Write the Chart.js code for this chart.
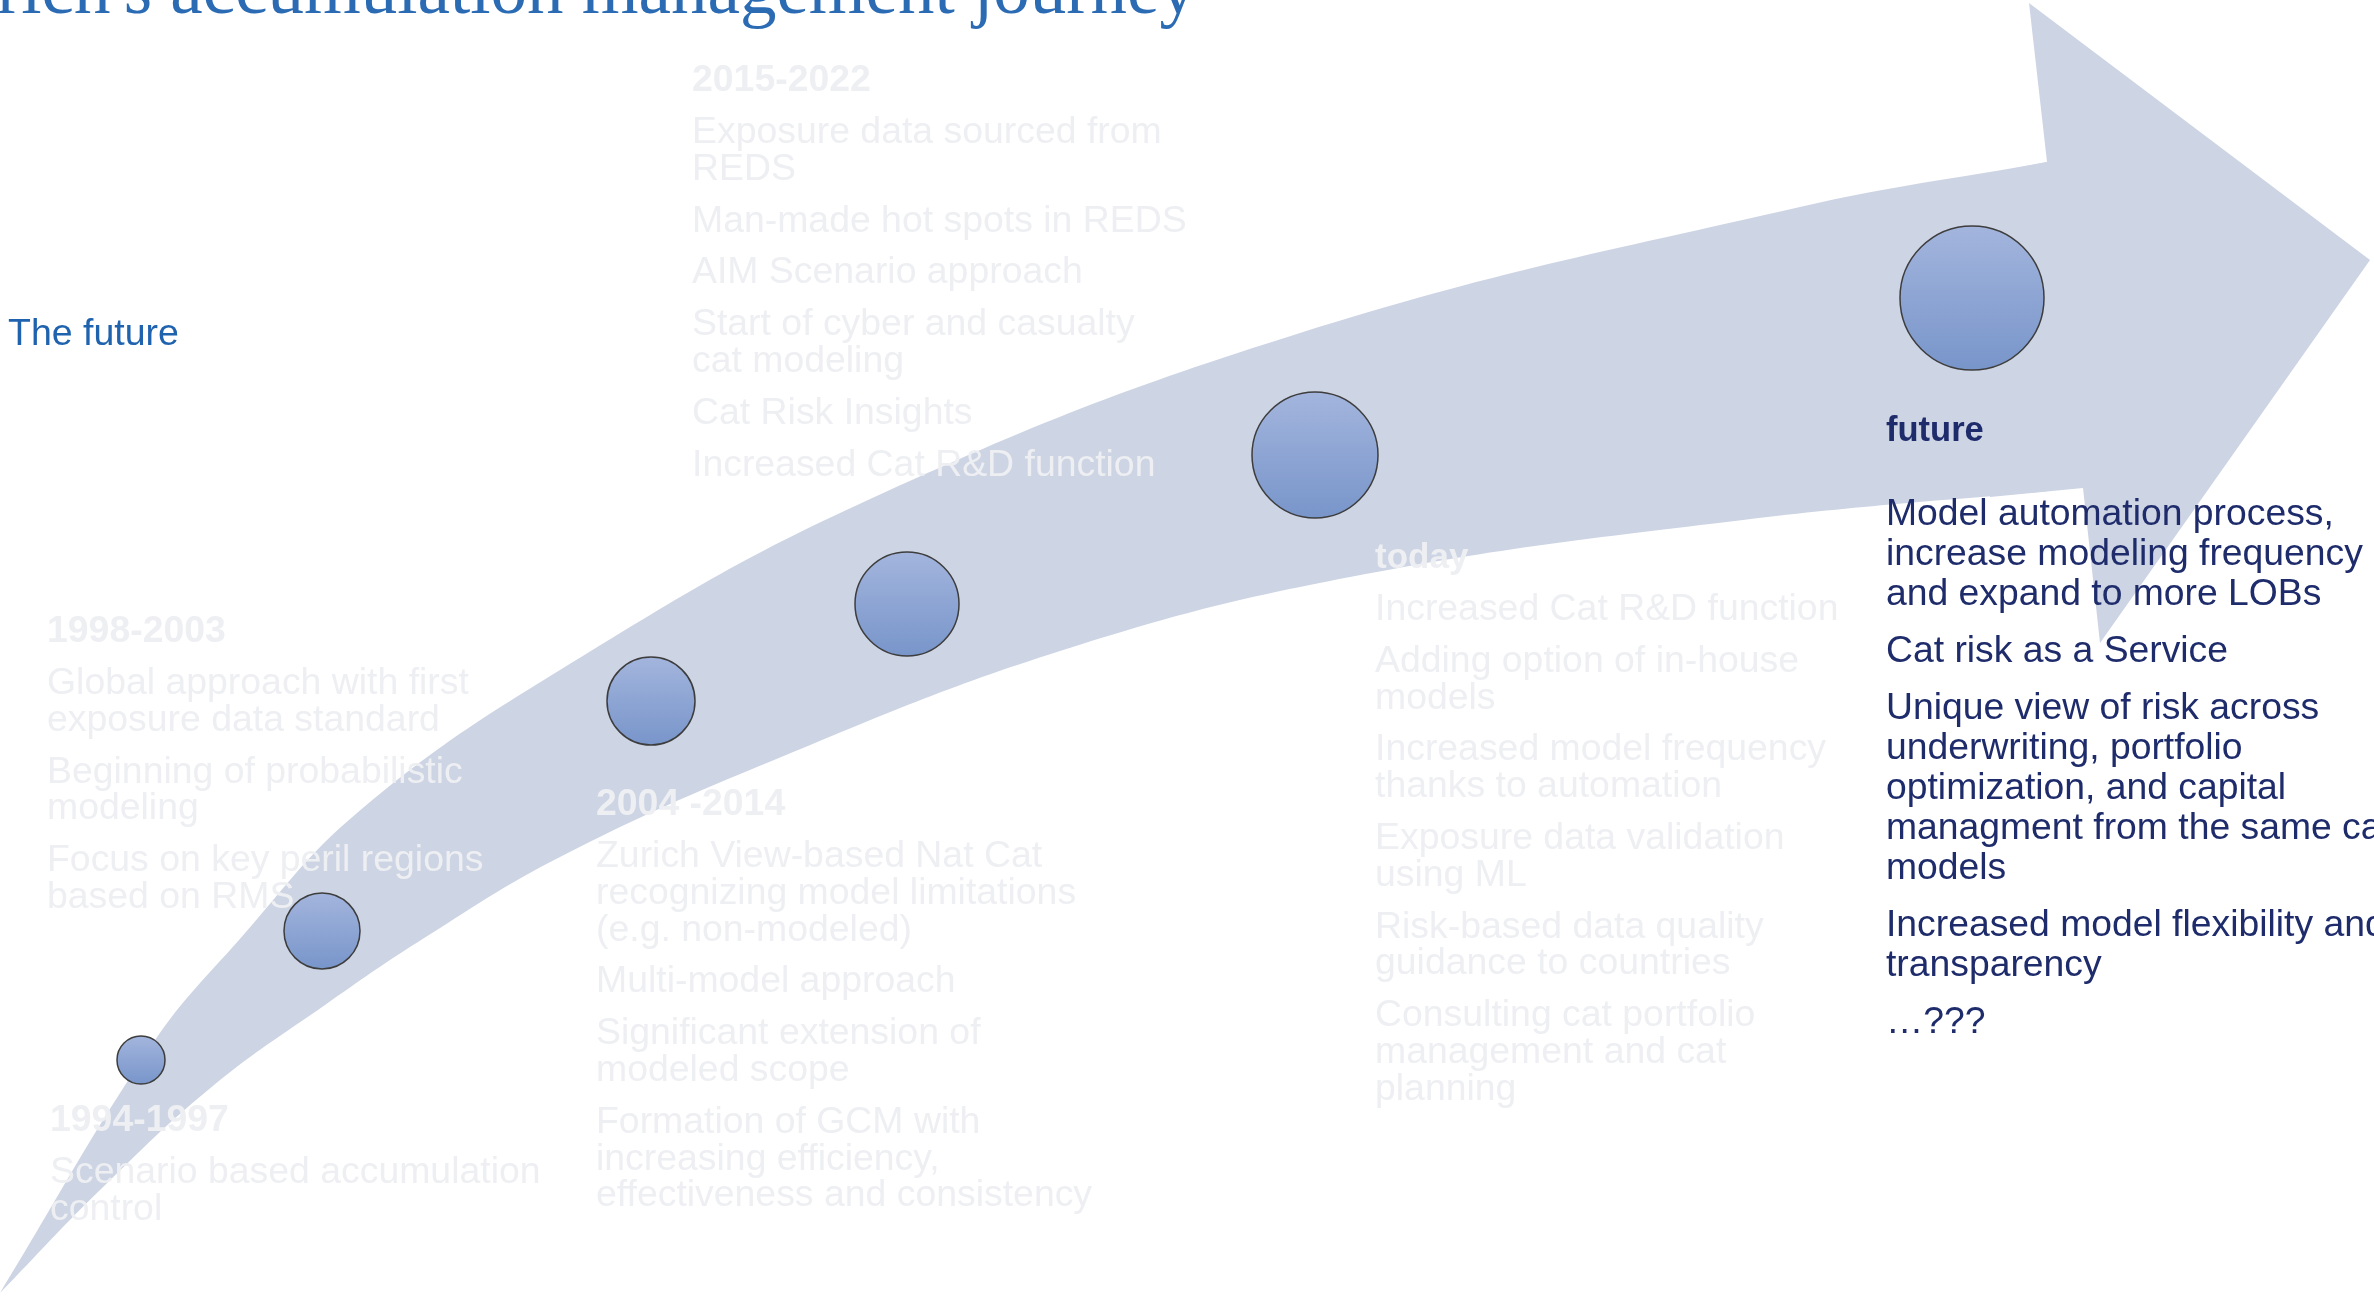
<!DOCTYPE html>
<html><head><meta charset="utf-8">
<script src="https://cdn.jsdelivr.net/npm/chart.js@4.4.1/dist/chart.umd.min.js"></script>
<style>html,body{margin:0;padding:0;background:#fff;overflow:hidden}canvas{display:block}</style>
</head><body>
<canvas id="c" width="2374" height="1297"></canvas>
<script>
// ---------- content ----------
const titleText = "Zurich's accumulation management journey";
const sideLabel = "The future";
const periods = ["1994-1997", "1998-2003", "2004 -2014", "2015-2022", "today", "future"];
const items1994 = ["Scenario based accumulation\ncontrol"];
const items1998 = ["Global approach with first\nexposure data standard", "Beginning of probabilistic\nmodeling", "Focus on key peril regions\nbased on RMS"];
const items2004 = ["Zurich View-based Nat Cat\nrecognizing model limitations\n(e.g. non-modeled)", "Multi-model approach", "Significant extension of\nmodeled scope", "Formation of GCM with\nincreasing efficiency,\neffectiveness and consistency"];
const items2015 = ["Exposure data sourced from\nREDS", "Man-made hot spots in REDS", "AIM Scenario approach", "Start of cyber and casualty\ncat modeling", "Cat Risk Insights", "Increased Cat R&D function"];
const itemsToday = ["Increased Cat R&D function", "Adding option of in-house\nmodels", "Increased model frequency\nthanks to automation", "Exposure data validation\nusing ML", "Risk-based data quality\nguidance to countries", "Consulting cat portfolio\nmanagement and cat\nplanning"];
const itemsFuture = ["Model automation process,\nincrease modeling frequency\nand expand to more LOBs", "Cat risk as a Service", "Unique view of risk across\nunderwriting, portfolio\noptimization, and capital\nmanagment from the same cat\nmodels", "Increased model flexibility and\ntransparency", "\u2026???"];
const periodItems = [items1994, items1998, items2004, items2015, itemsToday, itemsFuture];

// milestone circles (diagram coordinates)
const milestoneX = [141, 322, 651, 907, 1315, 1972];
const milestoneY = [1060, 931, 701, 604, 455, 298];
const milestoneR = [24, 38, 44, 52, 63, 72];

// arrow outline (diagram coordinates)
const arrowUpperX = [0, 153, 239, 357, 560, 868, 1300, 1800, 2047];
const arrowUpperY = [1293, 1043, 940, 813, 670, 500, 333, 207, 162];
const arrowLowerX = [0, 100, 214, 325, 418, 560, 774, 1060, 1350, 1743, 2083];
const arrowLowerY = [1293, 1190, 1085, 1005, 942, 857, 760, 651, 577, 520, 488];
const arrowHeadX = [1990, 2047, 2029, 2370, 2100, 2083, 1990];
const arrowHeadY = [173, 162, 3, 260, 643, 488, 497];

// ---------- layout & style ----------
const W = 2374, H = 1297;
const COLORS = { arrow: '#cdd4e4', faint: '#eeeff2', navy: '#1f2c6b', title: '#2b6bb3', side: '#1f62ae',
  circleTop: '#a3b5dd', circleBottom: '#7895ca', circleEdge: '#3d3d3d' };
const FONT = '"Liberation Sans", Arial, sans-serif';
const layoutTitle = { x: 1196, y: 13, size: 73 };
const layoutSide = { x: 8, y: 345, size: 37.5 };
const blockLayout = [
  { x: 50,   y: 1131, headSize: 37.4, size: 37.4, headGap: 52, lineGap: 36.8, paraGap: 51.8, color: COLORS.faint },
  { x: 47,   y: 642,  headSize: 37.4, size: 37.4, headGap: 52, lineGap: 36.8, paraGap: 51.8, color: COLORS.faint },
  { x: 596,  y: 815,  headSize: 37.4, size: 37.4, headGap: 52, lineGap: 36.8, paraGap: 51.8, color: COLORS.faint },
  { x: 692,  y: 91,   headSize: 37.4, size: 37.4, headGap: 52, lineGap: 36.8, paraGap: 51.8, color: COLORS.faint },
  { x: 1375, y: 568,  headSize: 35,   size: 37.4, headGap: 52, lineGap: 36.8, paraGap: 51.8, color: COLORS.faint },
  { x: 1886, y: 441,  headSize: 34.5, size: 37.3, headGap: 84, lineGap: 40,   paraGap: 57,   color: COLORS.navy }
];

const pts = (xs, ys) => xs.map((v, i) => ({ x: v, y: ys[i] }));
const milestones = milestoneX.map((v, i) => ({ x: v, y: milestoneY[i], r: milestoneR[i] }));

const textPlugin = {
  id: 'diagramText',
  afterDatasetsDraw(chart) {
    const { ctx } = chart;
    const sx = v => chart.scales.x.getPixelForValue(v);
    const sy = v => chart.scales.y.getPixelForValue(v);
    ctx.save();
    ctx.textBaseline = 'alphabetic';
    // title
    ctx.textAlign = 'right';
    ctx.fillStyle = COLORS.title;
    ctx.font = layoutTitle.size + 'px "Liberation Serif", "Times New Roman", serif';
    ctx.fillText(titleText, sx(layoutTitle.x), sy(layoutTitle.y));
    // side label
    ctx.textAlign = 'left';
    ctx.fillStyle = COLORS.side;
    ctx.font = layoutSide.size + 'px ' + FONT;
    ctx.fillText(sideLabel, sx(layoutSide.x), sy(layoutSide.y));
    // period blocks
    periods.forEach((p, i) => {
      const b = blockLayout[i];
      ctx.fillStyle = b.color;
      ctx.font = 'bold ' + b.headSize + 'px ' + FONT;
      ctx.fillText(p, sx(b.x), sy(b.y));
      ctx.font = b.size + 'px ' + FONT;
      let cy = b.y + b.headGap;
      periodItems[i].forEach(para => {
        const lines = para.split('\n');
        lines.forEach((ln, k) => {
          ctx.fillText(ln, sx(b.x), sy(cy));
          cy += (k < lines.length - 1) ? b.lineGap : b.paraGap;
        });
      });
    });
    ctx.restore();
  }
};

new Chart(document.getElementById('c'), {
  type: 'scatter',
  data: {
    datasets: [
      {
        type: 'bubble', label: 'milestones', data: milestones, order: 0, clip: false,
        borderColor: COLORS.circleEdge, borderWidth: 1.5, hoverBorderWidth: 1.5,
        backgroundColor: (c) => {
          if (c.type !== 'data' || !c.chart.chartArea) return COLORS.circleTop;
          const yp = c.chart.scales.y.getPixelForValue(c.raw.y);
          const g = c.chart.ctx.createLinearGradient(0, yp - c.raw.r, 0, yp + c.raw.r);
          g.addColorStop(0, COLORS.circleTop);
          g.addColorStop(1, COLORS.circleBottom);
          return g;
        }
      },
      {
        type: 'line', label: 'head', data: pts(arrowHeadX, arrowHeadY), order: 2,
        fill: 'shape', backgroundColor: COLORS.arrow, borderWidth: 0, pointRadius: 0, tension: 0
      },
      {
        type: 'line', label: 'upper', data: pts(arrowUpperX, arrowUpperY), order: 3,
        fill: '+1', backgroundColor: COLORS.arrow, borderWidth: 0, pointRadius: 0, tension: 0.4
      },
      {
        type: 'line', label: 'lower', data: pts(arrowLowerX, arrowLowerY), order: 4,
        fill: false, borderWidth: 0, borderColor: COLORS.arrow, pointRadius: 0, tension: 0.4
      }
    ]
  },
  options: {
    responsive: false, animation: false, events: [],
    layout: { padding: 0, autoPadding: false },
    scales: {
      x: { type: 'linear', min: 0, max: W, display: false },
      y: { type: 'linear', min: 0, max: H, reverse: true, display: false }
    },
    plugins: { legend: { display: false }, tooltip: { enabled: false } }
  },
  plugins: [textPlugin]
});
</script>
</body></html>
